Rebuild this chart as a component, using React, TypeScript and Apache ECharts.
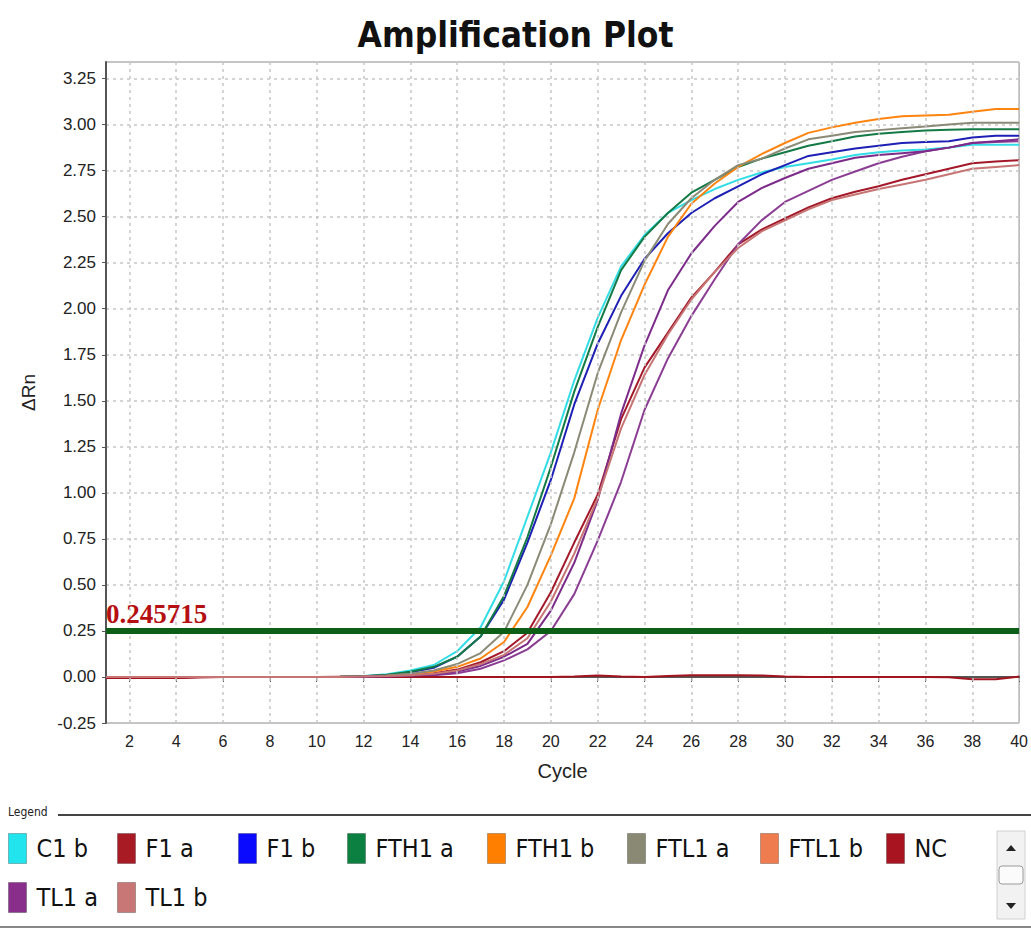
import React, { useEffect, useRef } from "react";
import * as echarts from "echarts";

const cycles = Array.from({ length: 40 }, (_, i) => i + 1);
const xTickValues = [2, 4, 6, 8, 10, 12, 14, 16, 18, 20, 22, 24, 26, 28, 30, 32, 34, 36, 38, 40];
const threshold = 0.245715;

const c1b = [0, 0, 0, 0, 0, 0, 0, 0, 0, 0, 0.001, 0.005, 0.015, 0.035, 0.065, 0.14, 0.27, 0.52, 0.87, 1.22, 1.61, 1.95, 2.23, 2.4, 2.52, 2.59, 2.65, 2.7, 2.74, 2.77, 2.79, 2.81, 2.835, 2.85, 2.86, 2.865, 2.875, 2.89, 2.89, 2.89];
const f1a = [-0.005, -0.006, -0.006, -0.005, -0.002, 0, 0, 0, 0, 0, 0.001, 0.002, 0.005, 0.01, 0.02, 0.04, 0.08, 0.14, 0.24, 0.46, 0.73, 0.99, 1.4, 1.68, 1.87, 2.06, 2.2, 2.35, 2.43, 2.49, 2.55, 2.6, 2.635, 2.665, 2.7, 2.73, 2.76, 2.79, 2.8, 2.806];
const f1b = [0, 0, 0, 0, 0, 0, 0, 0, 0, 0, 0.001, 0.004, 0.01, 0.025, 0.05, 0.11, 0.22, 0.42, 0.73, 1.07, 1.48, 1.81, 2.07, 2.27, 2.41, 2.52, 2.6, 2.665, 2.73, 2.78, 2.83, 2.85, 2.87, 2.885, 2.9, 2.905, 2.91, 2.93, 2.94, 2.94];
const fth1a = [0, 0, 0, 0, 0, 0, 0, 0, 0, 0, 0.001, 0.004, 0.012, 0.028, 0.055, 0.11, 0.22, 0.44, 0.76, 1.14, 1.55, 1.9, 2.21, 2.39, 2.52, 2.63, 2.7, 2.77, 2.815, 2.85, 2.885, 2.91, 2.935, 2.95, 2.96, 2.968, 2.972, 2.975, 2.975, 2.975];
const fth1b = [0, 0, 0, 0, 0, 0, 0, 0, 0, 0, 0.001, 0.003, 0.007, 0.015, 0.03, 0.055, 0.1, 0.19, 0.38, 0.66, 0.97, 1.45, 1.83, 2.13, 2.39, 2.57, 2.68, 2.77, 2.84, 2.9, 2.955, 2.985, 3.01, 3.03, 3.045, 3.05, 3.054, 3.07, 3.085, 3.085];
const ftl1a = [0, 0, 0, 0, 0, 0, 0, 0, 0, 0, 0.001, 0.003, 0.008, 0.018, 0.035, 0.07, 0.13, 0.245, 0.5, 0.83, 1.22, 1.65, 1.98, 2.26, 2.46, 2.6, 2.7, 2.78, 2.815, 2.87, 2.92, 2.94, 2.96, 2.97, 2.98, 2.99, 3.0, 3.01, 3.01, 3.01];
const ftl1b = [0, 0, 0, 0, 0, 0, 0, 0, 0, 0, 0, 0.001, 0.002, 0.005, 0.01, 0.02, 0.045, 0.09, 0.15, 0.25, 0.45, 0.74, 1.06, 1.45, 1.73, 1.96, 2.16, 2.35, 2.48, 2.58, 2.64, 2.7, 2.745, 2.79, 2.825, 2.855, 2.875, 2.9, 2.905, 2.91];
const nc = [-0.005, -0.006, -0.006, -0.005, -0.002, 0, 0, 0, 0, 0, 0, 0, 0, 0, 0, 0, 0, 0, 0, 0, 0.002, 0.008, 0.003, 0, 0.005, 0.01, 0.01, 0.01, 0.008, 0.003, 0, 0, 0, 0, 0, 0, -0.002, -0.012, -0.012, 0.002];
const tl1a = [0, 0, 0, 0, 0, 0, 0, 0, 0, 0, 0, 0.001, 0.003, 0.007, 0.014, 0.03, 0.06, 0.11, 0.18, 0.36, 0.62, 0.96, 1.43, 1.8, 2.1, 2.3, 2.45, 2.58, 2.655, 2.71, 2.76, 2.79, 2.82, 2.835, 2.845, 2.855, 2.875, 2.9, 2.91, 2.92];
const tl1b = [0, 0, 0, 0, 0, 0, 0, 0, 0, 0, 0, 0.002, 0.005, 0.009, 0.017, 0.035, 0.07, 0.12, 0.21, 0.41, 0.67, 0.97, 1.35, 1.64, 1.86, 2.05, 2.2, 2.33, 2.42, 2.48, 2.54, 2.59, 2.62, 2.65, 2.675, 2.7, 2.73, 2.76, 2.77, 2.78];

const seriesNames = ["C1 b", "F1 a", "F1 b", "FTH1 a", "FTH1 b", "FTL1 a", "FTL1 b", "NC", "TL1 a", "TL1 b"];
const seriesValues = [c1b, f1a, f1b, fth1a, fth1b, ftl1a, ftl1b, nc, tl1a, tl1b];
const lineColors = ["#33dde6", "#a3192a", "#1e1fb4", "#137a45", "#ff8410", "#8a8a76", "#8a3d92", "#a3141f", "#7c2b8a", "#c77474"];
const legendColors = ["#22e4ec", "#a81b24", "#0a0aff", "#0c8040", "#ff8000", "#8a8a74", "#ee7c4e", "#a8141f", "#8a2e8c", "#c97676"];
const legendPos = [
  [8, 833], [117, 833], [238, 833], [347, 833], [487, 833], [627, 833], [760, 833], [886, 833],
  [8, 882], [117, 882],
];

const narrow = "'Liberation Sans Narrow', 'Arial Narrow', 'DejaVu Sans Condensed', 'Liberation Sans', sans-serif";
const gridLineStyle = { color: "#c6c6c6", type: [3, 4] as number[], width: 1.5 };

export default function App() {
  const ref = useRef<HTMLDivElement>(null);
  useEffect(() => {
    if (!ref.current) return;
    const chart = echarts.init(ref.current, null, { renderer: "svg" });
    const series: any[] = [
      {
        name: "xgrid",
        type: "line",
        data: [],
        silent: true,
        z: 1,
        markLine: {
          silent: true,
          symbol: ["none", "none"],
          label: { show: false },
          lineStyle: gridLineStyle,
          data: xTickValues.map((v) => ({ xAxis: v })),
        },
      },
    ];
    seriesNames.forEach((name, k) => {
      series.push({
        name,
        type: "line",
        data: cycles.map((c, i) => [c, seriesValues[k][i]]),
        showSymbol: false,
        symbol: "none",
        lineStyle: { color: lineColors[k], width: 2 },
        itemStyle: { color: lineColors[k] },
        silent: true,
        z: 3,
      });
    });
    series.push({
      name: "threshold",
      type: "line",
      data: [],
      silent: true,
      z: 5,
      markLine: {
        silent: true,
        symbol: ["none", "none"],
        lineStyle: { color: "#0d5e17", width: 6, type: "solid" },
        label: {
          show: true,
          position: "insideStartTop",
          formatter: String(threshold),
          color: "#b50f12",
          fontFamily: "'Liberation Serif', 'Times New Roman', serif",
          fontWeight: "bold",
          fontSize: 27,
          distance: [0, 3],
        },
        data: [{ yAxis: threshold }],
      },
    });

    const legends = seriesNames.map((name, k) => ({
      data: [name],
      left: legendPos[k][0],
      top: legendPos[k][1],
      padding: 0,
      itemWidth: 18,
      itemHeight: 30,
      icon: "rect",
      selectedMode: false,
      itemStyle: { color: legendColors[k], borderColor: "rgba(0,0,0,0.25)", borderWidth: 1 },
      lineStyle: { opacity: 0 },
      textStyle: { fontFamily: narrow, fontSize: 25, color: "#111", padding: [0, 0, 0, 5] },
    }));

    chart.setOption({
      animation: false,
      backgroundColor: "#ffffff",
      title: {
        text: "Amplification Plot",
        left: "center",
        top: 12,
        textStyle: { fontFamily: narrow, fontWeight: "bold", fontSize: 35, color: "#111" },
      },
      legend: legends,
      grid: {
        left: 106,
        right: 9,
        top: 62,
        bottom: 207,
        show: true,
        borderColor: "#8a8a8a",
        borderWidth: 1,
      },
      xAxis: {
        type: "value",
        min: 1,
        max: 40,
        name: "Cycle",
        nameLocation: "middle",
        nameGap: 38,
        nameTextStyle: { fontFamily: "'Liberation Sans', Arial, sans-serif", fontSize: 20, color: "#222" },
        axisLine: { show: true, lineStyle: { color: "#555", width: 2 } },
        axisTick: { show: true, length: 5, customValues: xTickValues, lineStyle: { color: "#555" } },
        axisLabel: {
          customValues: xTickValues,
          fontFamily: "'Liberation Sans', Arial, sans-serif",
          fontSize: 16,
          color: "#222",
          margin: 10,
        },
        splitLine: { show: false },
      },
      yAxis: {
        type: "value",
        min: -0.25,
        max: 3.34,
        interval: 0.25,
        name: "ΔRn",
        nameLocation: "middle",
        nameRotate: 90,
        nameGap: 68,
        nameTextStyle: { fontFamily: "'Liberation Sans', Arial, sans-serif", fontSize: 19, color: "#222" },
        axisLine: { show: true, lineStyle: { color: "#555", width: 2 } },
        axisTick: { show: true, length: 4, lineStyle: { color: "#555" } },
        axisLabel: {
          showMaxLabel: false,
          formatter: (v: number) => v.toFixed(2),
          fontFamily: "'Liberation Sans', Arial, sans-serif",
          fontSize: 17,
          color: "#222",
          margin: 10,
        },
        splitLine: { show: true, lineStyle: gridLineStyle },
      },
      graphic: [
        {
          type: "text",
          left: 8,
          top: 806,
          style: { text: "Legend", fontSize: 12, fontFamily: narrow, fill: "#222" },
        },
        {
          type: "line",
          shape: { x1: 58, y1: 815, x2: 1031, y2: 815 },
          style: { stroke: "#444", lineWidth: 2 },
        },
        {
          type: "line",
          shape: { x1: 0, y1: 927, x2: 1031, y2: 927 },
          style: { stroke: "#888", lineWidth: 2 },
        },
        {
          type: "rect",
          shape: { x: 997, y: 831, width: 28, height: 88 },
          style: { fill: "#f2f2f2", stroke: "#d0d0d0", lineWidth: 1 },
        },
        {
          type: "polygon",
          shape: { points: [[1006, 851], [1016, 851], [1011, 845]] },
          style: { fill: "#222" },
        },
        {
          type: "rect",
          shape: { x: 999, y: 866, width: 24, height: 18, r: 3 },
          style: { fill: "#fbfbfb", stroke: "#9a9a9a", lineWidth: 1 },
        },
        {
          type: "polygon",
          shape: { points: [[1006, 903], [1016, 903], [1011, 909]] },
          style: { fill: "#222" },
        },
      ],
      series,
    });
    return () => chart.dispose();
  }, []);
  return (
    <div
      ref={ref}
      style={{ position: "fixed", left: 0, top: 0, width: 1031, height: 930, background: "#fff" }}
    />
  );
}
